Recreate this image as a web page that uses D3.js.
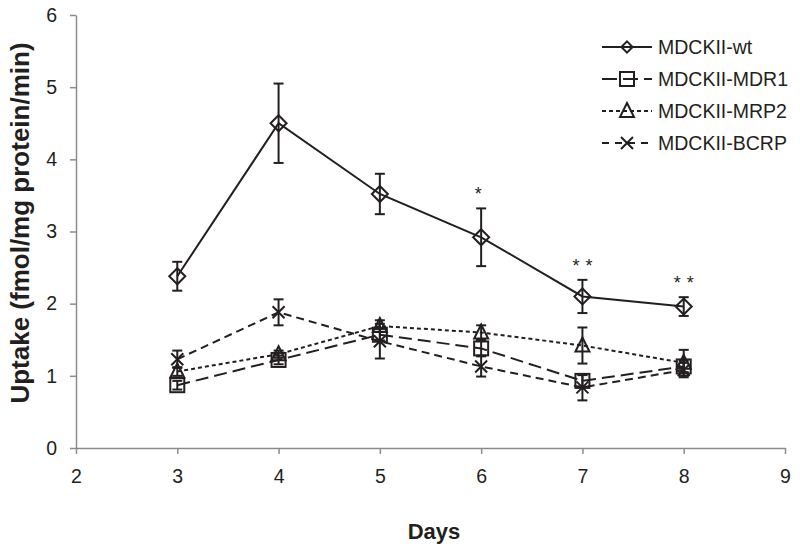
<!DOCTYPE html>
<html><head><meta charset="utf-8">
<script src="https://cdn.jsdelivr.net/npm/d3@7"></script>
<style>body{margin:0;background:#fff}svg{display:block}text{font-family:"Liberation Sans",Arial,sans-serif;fill:#231f20}</style>
</head><body><svg id="c" width="800" height="552"></svg>
<script>
const days = [3,4,5,6,7,8];
const seriesNames = ["MDCKII-wt","MDCKII-MDR1","MDCKII-MRP2","MDCKII-BCRP"];
const wt = [2.38,4.5,3.52,2.92,2.1,1.96];
const wtErr = [0.2,0.55,0.28,0.4,0.23,0.13];
const mdr1 = [0.87,1.22,1.57,1.38,0.93,1.13];
const mdr1Err = [0.06,0.06,0.08,0.1,0.08,0.08];
const mrp2 = [1.06,1.3,1.69,1.6,1.42,1.18];
const mrp2Err = [0.06,0.05,0.08,0.1,0.25,0.18];
const bcrp = [1.23,1.88,1.48,1.13,0.84,1.08];
const bcrpErr = [0.12,0.18,0.24,0.14,0.18,0.1];
const significance = ["","","","*","**","**"];
const xTicks = [2,3,4,5,6,7,8,9];
const yTicks = [0,1,2,3,4,5,6];

const svg = d3.select("#c");
const x = d3.scaleLinear().domain([2,9]).range([76,785]);
const y = d3.scaleLinear().domain([0,6]).range([448,15]);
const ink = "#231f20", axisCol = "#8c8c8c";

// axes
const xa = svg.append("g").attr("transform","translate(0,448)")
  .call(d3.axisBottom(x).tickValues(xTicks).tickFormat(d3.format("d")).tickSize(6).tickSizeOuter(0).tickPadding(15));
const ya = svg.append("g").attr("transform","translate(76,0)")
  .call(d3.axisLeft(y).tickValues(yTicks).tickFormat(d3.format("d")).tickSize(6).tickSizeOuter(0).tickPadding(13));
[xa,ya].forEach(a=>{
  a.selectAll("path,line").attr("stroke",axisCol).attr("stroke-width",1.5);
  a.selectAll("text").attr("font-size",19.5).attr("fill",ink).style("font-family","'Liberation Sans',Arial,sans-serif");
});

svg.append("text").attr("x",434).attr("y",539).attr("text-anchor","middle")
  .attr("font-size",22).attr("font-weight","bold").text("Days");
svg.append("text").attr("transform","translate(29,223) rotate(-90)").attr("text-anchor","middle")
  .attr("font-size",26).attr("font-weight","bold").text("Uptake (fmol/mg protein/min)");

const series = [
  {vals:wt, err:wtErr, dash:null, marker:"diamond", ldash:null},
  {vals:mdr1, err:mdr1Err, dash:"13,6", marker:"square", ldash:"15,6"},
  {vals:mrp2, err:mrp2Err, dash:"4,3", marker:"triangle", ldash:"4,3"},
  {vals:bcrp, err:bcrpErr, dash:"8,5", marker:"x", ldash:"7,6"}
];

function drawMarker(g, type, cx, cy, k){
  k = k || 1;
  const s = 2;
  if(type==="diamond"){
    const r = 8*k;
    g.append("path").attr("d",`M${cx},${cy-r}L${cx+r},${cy}L${cx},${cy+r}L${cx-r},${cy}Z`)
     .attr("fill","none").attr("stroke",ink).attr("stroke-width",s);
  } else if(type==="square"){
    g.append("rect").attr("x",cx-7).attr("y",cy-7).attr("width",14).attr("height",14)
     .attr("fill","none").attr("stroke",ink).attr("stroke-width",s);
  } else if(type==="triangle"){
    g.append("path").attr("d",`M${cx},${cy-8}L${cx+7},${cy+6}L${cx-7},${cy+6}Z`)
     .attr("fill","none").attr("stroke",ink).attr("stroke-width",s);
  } else {
    g.append("path").attr("d",`M${cx-6},${cy-6}L${cx+6},${cy+6}M${cx+6},${cy-6}L${cx-6},${cy+6}`)
     .attr("stroke",ink).attr("stroke-width",s);
  }
}

const line = d3.line().x((d,i)=>x(days[i])).y(d=>y(d));
series.slice().reverse().forEach(s=>{
  const g = svg.append("g");
  g.append("path").attr("d",line(s.vals)).attr("fill","none").attr("stroke",ink)
    .attr("stroke-width",2).attr("stroke-dasharray",s.dash);
  s.vals.forEach((v,i)=>{
    const cx = x(days[i]);
    g.append("line").attr("x1",cx).attr("x2",cx).attr("y1",y(v+s.err[i])).attr("y2",y(v-s.err[i]))
      .attr("stroke",ink).attr("stroke-width",2);
    [v+s.err[i], v-s.err[i]].forEach(e=>{
      g.append("line").attr("x1",cx-5).attr("x2",cx+5).attr("y1",y(e)).attr("y2",y(e))
        .attr("stroke",ink).attr("stroke-width",2);
    });
    drawMarker(g, s.marker, cx, y(v));
  });
});

// significance stars
significance.forEach((t,i)=>{
  if(!t) return;
  svg.append("text").attr("x",x(days[i])+(t.length>1?3:0)).attr("y",y(wt[i]+wtErr[i])-8)
    .attr("text-anchor","middle").attr("font-size",18).attr("letter-spacing",6).text(t);
});

// legend
const lg = svg.append("g");
seriesNames.forEach((n,i)=>{
  const ly = 47 + i*32;
  lg.append("line").attr("x1",602).attr("x2",652).attr("y1",ly).attr("y2",ly)
    .attr("stroke",ink).attr("stroke-width",2).attr("stroke-dasharray",series[i].ldash);
  drawMarker(lg, series[i].marker, 627, ly, 0.7);
  lg.append("text").attr("x",658).attr("y",ly+7).attr("font-size",19.5).text(n);
});
</script></body></html>
